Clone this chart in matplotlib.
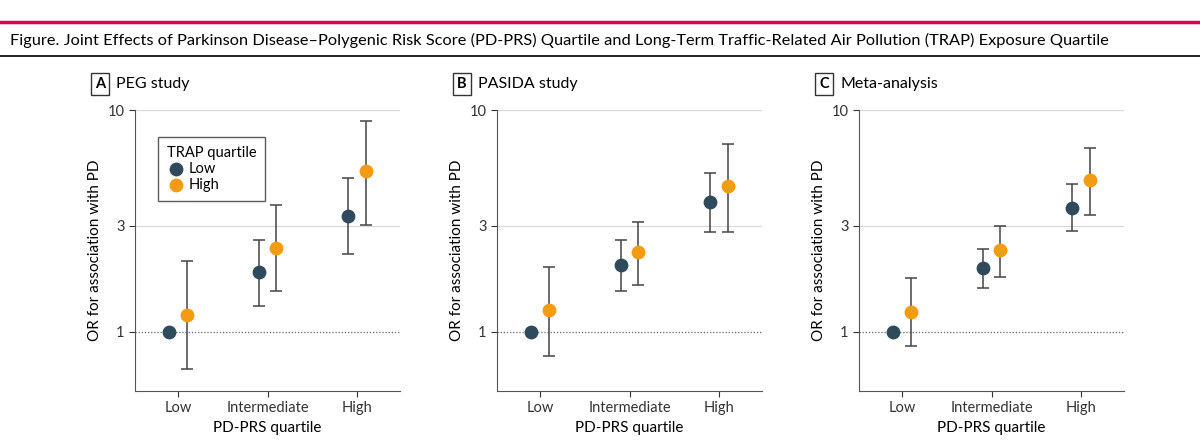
import matplotlib
matplotlib.use("Agg")
import matplotlib.pyplot as plt
from matplotlib.lines import Line2D
import numpy as np

plt.rcParams['font.family'] = ['Lato', 'DejaVu Sans']

categories = ["Low", "Intermediate", "High"]
panels = ["PEG study", "PASIDA study", "Meta-analysis"]
letters = ["A", "B", "C"]
# TRAP low
low_or = [[1.0, 1.85, 3.31], [1.0, 1.99, 3.83], [1.0, 1.93, 3.63]]
low_lo = [[None, 1.31, 2.24], [None, 1.53, 2.82], [None, 1.57, 2.85]]
low_hi = [[None, 2.60, 4.92], [None, 2.59, 5.19], [None, 2.37, 4.63]]
# TRAP high
high_or = [[1.19, 2.38, 5.31], [1.25, 2.29, 4.53], [1.23, 2.33, 4.84]]
high_lo = [[0.68, 1.53, 3.04], [0.78, 1.62, 2.83], [0.86, 1.76, 3.37]]
high_hi = [[2.09, 3.72, 8.95], [1.96, 3.14, 7.05], [1.74, 3.00, 6.75]]

c_low = "#2f4b5b"
c_high = "#f39c12"
err_c = "#444444"

fig = plt.figure(figsize=(12, 4.42), dpi=100)
W, H = 1200, 442
fig.add_artist(Line2D([0, 1], [1 - 22/H, 1 - 22/H], color="#e0004d", lw=2.5))
fig.add_artist(Line2D([0, 1], [1 - 56/H, 1 - 56/H], color="black", lw=1.2))
fig.text(10/W, 1 - 40/H, "Figure. Joint Effects of Parkinson Disease\u2013Polygenic Risk Score (PD-PRS) Quartile and Long-Term Traffic-Related Air Pollution (TRAP) Exposure Quartile",
         fontsize=11.8, va="center", ha="left")

lefts = [135, 497, 859]
x = np.arange(3)
d = 0.1
for i in range(3):
    ax = fig.add_axes([lefts[i]/W, 1 - 391/H, 265/W, (391-110)/H])
    ax.set_yscale("log")
    ax.set_ylim(0.54, 10)
    ax.set_xlim(-0.48, 2.48)
    ax.set_yticks([1, 3, 10])
    ax.set_yticklabels(["1", "3", "10"])
    ax.yaxis.set_minor_locator(matplotlib.ticker.NullLocator())
    for yv in [3, 10]:
        ax.axhline(yv, color="#d9d9d9", lw=0.9, zorder=0)
    ax.axhline(1, color="#666666", lw=0.9, ls=(0, (1, 1.5)), zorder=0)
    ax.set_xticks(x)
    ax.set_xticklabels(categories)
    for s in ["top", "right"]:
        ax.spines[s].set_visible(False)
    for s in ["left", "bottom"]:
        ax.spines[s].set_color("#555555")
    ax.tick_params(colors="#333333", labelsize=10.5, length=4)
    ax.set_xlabel("PD-PRS quartile", fontsize=11)
    ax.set_ylabel("OR for association with PD", fontsize=11)
    for j in range(3):
        if low_lo[i][j] is not None:
            ax.errorbar(x[j] - d, low_or[i][j],
                        yerr=[[low_or[i][j] - low_lo[i][j]], [low_hi[i][j] - low_or[i][j]]],
                        fmt="none", ecolor=err_c, elinewidth=1.1, capsize=4.5, capthick=1.1, zorder=2)
        ax.errorbar(x[j] + d, high_or[i][j],
                    yerr=[[high_or[i][j] - high_lo[i][j]], [high_hi[i][j] - high_or[i][j]]],
                    fmt="none", ecolor=err_c, elinewidth=1.1, capsize=4.5, capthick=1.1, zorder=2)
    ax.scatter(x - d, low_or[i], s=80, color=c_low, zorder=3, label="Low")
    ax.scatter(x + d, high_or[i], s=80, color=c_high, zorder=3, label="High")
    ax.text(lefts[i]/W - 35/W, 1 - 84/H, letters[i], transform=fig.transFigure, fontsize=10.5,
            fontweight="bold", va="center", ha="center",
            bbox=dict(boxstyle="square,pad=0.3", fc="white", ec="#333333", lw=1))
    fig.text(lefts[i]/W - 19/W, 1 - 84/H, panels[i], fontsize=11.5, va="center", ha="left")
    if i == 0:
        leg = ax.legend(title="TRAP quartile", loc="upper left", bbox_to_anchor=(0.06, 0.93),
                        frameon=True, fancybox=False, edgecolor="#333333", fontsize=10.5,
                        title_fontsize=10.5, handletextpad=0.3, borderpad=0.6, labelspacing=0.15,
                        handlelength=1.2)
        leg._legend_box.align = "left"
        leg.get_frame().set_linewidth(1)

fig.savefig("out.png", dpi=100)
